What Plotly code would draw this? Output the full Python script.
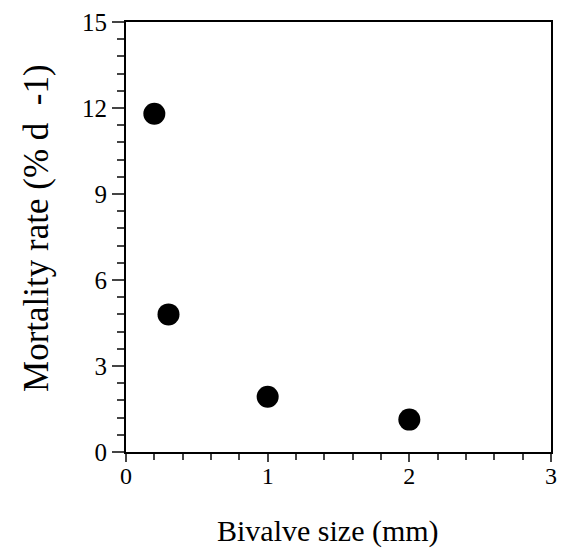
import plotly.graph_objects as go

bivalve_size_mm = [0.2, 0.3, 1.0, 2.0]
mortality_rate = [11.8, 4.8, 1.93, 1.13]

x_ticks = [0, 1, 2, 3]
y_ticks = [0, 3, 6, 9, 12, 15]

x_title = "Bivalve size (mm)"
y_title = "Mortality rate (% d  -1)"

fig = go.Figure()
fig.add_trace(go.Scatter(
    x=bivalve_size_mm, y=mortality_rate, mode="markers",
    marker=dict(size=22, color="black"), showlegend=False,
))

font = "Liberation Serif, Times New Roman, serif"
fig.update_layout(
    width=565, height=548,
    margin=dict(l=126, r=8, t=22, b=96),
    plot_bgcolor="white", paper_bgcolor="white",
    font=dict(family=font, color="black", size=24),
    xaxis=dict(
        range=[0, 3], tickvals=x_ticks, ticks="outside", ticklen=8, tickwidth=1.5,
        showline=True, linewidth=2, linecolor="black", mirror=True,
        showgrid=False, zeroline=False, ticklabelstandoff=-7,
        minor=dict(dtick=0.2, ticks="outside", ticklen=6, tickwidth=1.5, showgrid=False),
        tickfont=dict(size=24),
    ),
    yaxis=dict(
        range=[0, 15], tickvals=y_ticks, ticks="outside", ticklen=12, tickwidth=1.5,
        showline=True, linewidth=2, linecolor="black", mirror=True,
        showgrid=False, zeroline=False,
        minor=dict(dtick=0.6, ticks="outside", ticklen=7, tickwidth=1.5, showgrid=False),
        tickfont=dict(size=25),
    ),
    annotations=[
        dict(text=x_title, xref="paper", yref="paper", x=0.476, y=-0.1837,
             xanchor="center", yanchor="middle", showarrow=False,
             font=dict(size=30)),
        dict(text=y_title, xref="paper", yref="paper", x=-0.212, y=0.5209,
             xanchor="center", yanchor="middle", showarrow=False, textangle=-90,
             font=dict(size=35)),
    ],
)

fig.write_html("out.html")
